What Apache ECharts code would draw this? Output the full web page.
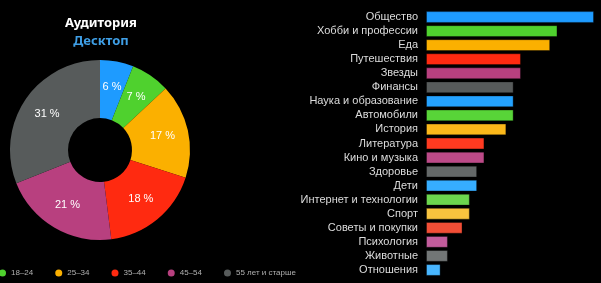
<!DOCTYPE html>
<html><head><meta charset="utf-8">
<script src="https://cdn.jsdelivr.net/npm/echarts@6/dist/echarts.min.js"></script>
<style>html,body{margin:0;padding:0;background:#000;}#c{width:601px;height:283px;}</style>
</head><body><div id="c"></div>
<script>
var ageGroups = ['до 18', '18–24', '25–34', '35–44', '45–54', '55 лет и старше'];
var ageShares = [6, 7, 17, 18, 21, 31];
var ageColors = ['#1e9bff', '#4fd12e', '#fbb000', '#ff2a10', '#b8407f', '#575b5b'];
var legendItems = ['18–24', '25–34', '35–44', '45–54', '55 лет и старше'];

var topics = ['Общество', 'Хобби и профессии', 'Еда', 'Путешествия', 'Звезды', 'Финансы', 'Наука и образование', 'Автомобили', 'История', 'Литература', 'Кино и музыка', 'Здоровье', 'Дети', 'Интернет и технологии', 'Спорт', 'Советы и покупки', 'Психология', 'Животные', 'Отношения'];
var topicValues = [23, 18, 17, 13, 13, 12, 12, 12, 11, 8, 8, 7, 7, 6, 6, 5, 3, 3, 2];
var barColors = ['#1e9bff', '#4fd12e', '#fbb000', '#ff2a10', '#b8407f', '#575b5b',
                 '#24a2ff', '#58d438', '#fbb81a', '#ff3a20', '#bc4a88', '#646868',
                 '#36adff', '#6cd64e', '#f8c33e', '#f24e36', '#c25c9c', '#727676', '#48b6ff'];

var chart = echarts.init(document.getElementById('c'));
chart.setOption({
  backgroundColor: '#000',
  animation: false,
  title: [
    {text: 'Аудитория', left: 96, textAlign: 'center', top: 12, textStyle: {color: '#ffffff', fontSize: 13, fontWeight: 'bold', fontFamily: 'Noto Sans'}},
    {text: 'Десктоп', left: 96, textAlign: 'center', top: 30, textStyle: {color: '#3f9fe6', fontSize: 13, fontWeight: 'bold', fontFamily: 'Noto Sans'}}
  ],
  legend: {
    data: legendItems,
    left: -6, top: 264,
    icon: 'circle', itemWidth: 7, itemHeight: 7, itemGap: 22,
    textStyle: {color: '#b0b0b0', fontSize: 8, fontFamily: 'Liberation Sans'}
  },
  grid: {left: 426, right: 7, top: 10, bottom: 6},
  xAxis: {type: 'value', min: 0, max: 23, show: false},
  yAxis: {
    type: 'category', data: topics, inverse: true,
    axisLine: {show: false}, axisTick: {show: false},
    axisLabel: {interval: 0, color: '#dcdcdc', fontSize: 11, margin: 8, fontFamily: 'Liberation Sans'}
  },
  series: [
    {
      type: 'pie', center: [100, 150], radius: [32, 90], startAngle: 90, clockwise: true,
      data: ageGroups.map(function (n, i) { return {name: n, value: ageShares[i], itemStyle: {color: ageColors[i]}}; }),
      label: {position: 'inside', formatter: '{c} %', color: '#fff', fontSize: 11, fontFamily: 'Liberation Sans'},
      labelLine: {show: false},
      emphasis: {disabled: true}
    },
    {
      type: 'bar', barWidth: '84%',
      data: topicValues.map(function (v, i) { return {value: v, itemStyle: {color: barColors[i], borderColor: 'rgba(0,0,0,0.35)', borderWidth: 1}}; }),
      emphasis: {disabled: true}
    }
  ]
});
</script></body></html>
